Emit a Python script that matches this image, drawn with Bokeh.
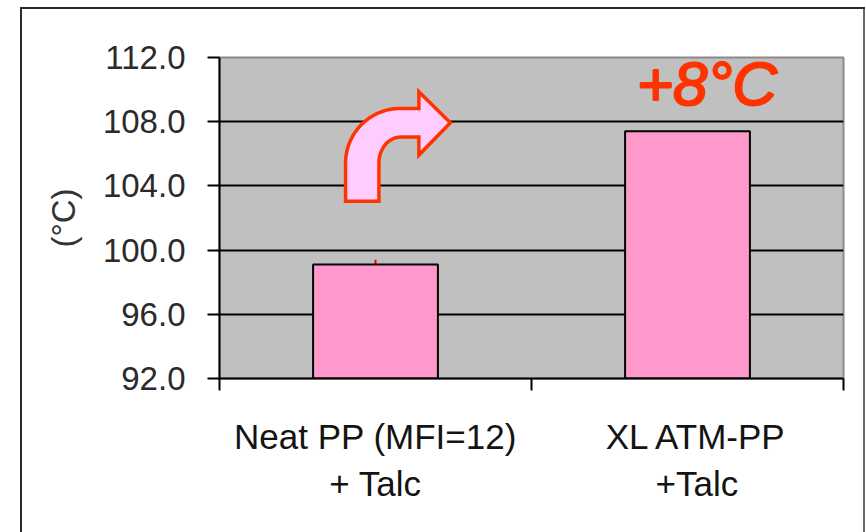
import numpy as np
from bokeh.plotting import figure
from bokeh.models import Range1d, FixedTicker, PrintfTickFormatter, ColumnDataSource
from bokeh.core.properties import value
from bokeh.embed import file_html
from bokeh.resources import INLINE

# --- data -------------------------------------------------------------
categories = ["Neat PP (MFI=12)\n+ Talc", "XL ATM-PP\n+Talc"]
temps = [99.1, 107.4]          # deg C
temp_err = [0.3, 0.0]          # deg C
y_ticks = [92.0, 96.0, 100.0, 104.0, 108.0, 112.0]
gain_text = "+8°C"

FONT = "Liberation Sans"
GAIN_RED = "#FF3300"

xs = [i + 0.5 for i in range(len(categories))]
label_nudge = [0.0, 0.03]      # horizontal shift of the category names

# thin frame around the whole chart, painted behind a transparent border area
frame_css = ("linear-gradient(#2a2a2a,#2a2a2a) 20px 7px / 2px 525px no-repeat, "
             "linear-gradient(#2a2a2a,#2a2a2a) 20px 7px / 845px 2px no-repeat, "
             "linear-gradient(#6a6a6a,#6a6a6a) 863px 7px / 2px 525px no-repeat, "
             "white")

p = figure(width=866, height=532, output_backend="svg", toolbar_location=None,
           x_range=Range1d(0, len(categories)), y_range=Range1d(y_ticks[0], y_ticks[-1]),
           min_border_left=219, min_border_right=23, min_border_top=57,
           min_border_bottom=154, styles={"background": frame_css})

p.background_fill_color = "#C0C0C0"
p.border_fill_color = None
p.outline_line_color = "#8A8A8A"
p.outline_line_width = 2

# grid
p.xgrid.visible = False
p.ygrid.ticker = FixedTicker(ticks=y_ticks[1:-1])
p.ygrid.grid_line_color = "black"
p.ygrid.grid_line_width = 2

# y axis
ya = p.yaxis[0]
ya.ticker = FixedTicker(ticks=y_ticks)
ya.formatter = PrintfTickFormatter(format="%.1f")
ya.axis_line_width = 2
ya.major_tick_line_width = 2
ya.major_tick_out = 12
ya.major_tick_in = 0
ya.minor_tick_line_color = None
ya.major_label_standoff = 22
ya.major_label_text_font = FONT
ya.major_label_text_font_size = "33px"
ya.major_label_text_color = "#2a2a2a"
ya.axis_label = "(°C)"
ya.axis_label_text_font = FONT
ya.axis_label_text_font_size = "33px"
ya.axis_label_text_font_style = "normal"
ya.axis_label_text_color = "#333333"
ya.axis_label_standoff = 18

# x axis: names under each bar, ticks on the category boundaries
label_x = [x + d for x, d in zip(xs, label_nudge)]
xa = p.xaxis[0]
xa.ticker = FixedTicker(ticks=label_x, minor_ticks=list(range(len(categories) + 1)))
xa.major_label_overrides = {x: name for x, name in zip(label_x, categories)}
xa.major_label_text_font = FONT
xa.major_label_text_font_size = "35px"
xa.major_label_text_color = "#141414"
xa.major_label_text_line_height = 1.22
xa.major_label_standoff = 26
xa.axis_line_width = 2
xa.major_tick_line_color = None
xa.major_tick_out = 0
xa.major_tick_in = 0
xa.minor_tick_line_color = "black"
xa.minor_tick_line_width = 2
xa.minor_tick_out = 12
xa.minor_tick_in = 0

# error whisker sits behind the bar top
err_x = [x for x, e in zip(xs, temp_err) if e > 0]
err_lo = [v - e for v, e in zip(temps, temp_err) if e > 0]
err_hi = [v + e for v, e in zip(temps, temp_err) if e > 0]
p.segment(x0=err_x, y0=err_lo, x1=err_x, y1=err_hi, line_color="red", line_width=2)

src = ColumnDataSource(dict(x=xs, top=temps))
p.vbar(x="x", top="top", bottom=y_ticks[0], width=0.4, source=src,
       fill_color="#FF99CC", line_color="black", line_width=2)

# curved "increase" arrow
cx, cy = 0.58, 105.42
stem_l, stem_r, stem_b = 0.404, 0.511, 103.05
outer_top, inner_top = 108.83, 107.04
head_x, head_top, head_bot, tip_x = 0.639, 109.87, 105.92, 0.740
t = np.linspace(np.pi, np.pi / 2, 30)
ax = [stem_l, stem_l]
ay = [stem_b, cy]
ax += list(cx + (cx - stem_l) * np.cos(t))
ay += list(cy + (outer_top - cy) * np.sin(t))
ax += [head_x, head_x, tip_x, head_x, head_x]
ay += [outer_top, head_top, (outer_top + inner_top) / 2, head_bot, inner_top]
t2 = np.linspace(np.pi / 2, np.pi, 30)
ax += list(cx + (cx - stem_r) * np.cos(t2))
ay += list(cy + (inner_top - cy) * np.sin(t2))
ax += [stem_r]
ay += [stem_b]
p.patch(ax, ay, fill_color="#FFCCFF", line_color=GAIN_RED, line_width=3.5,
        line_join="miter")

# gain annotation (italic face, thickened with an outline of the same colour)
p.text(x=[1.562], y=[110.4], text=[gain_text], text_font=value(FONT),
       text_font_size="62px", text_font_style="italic",
       text_color=GAIN_RED, text_outline_color=GAIN_RED,
       text_align="center", text_baseline="middle")

open("out.html", "w").write(file_html(p, INLINE))
